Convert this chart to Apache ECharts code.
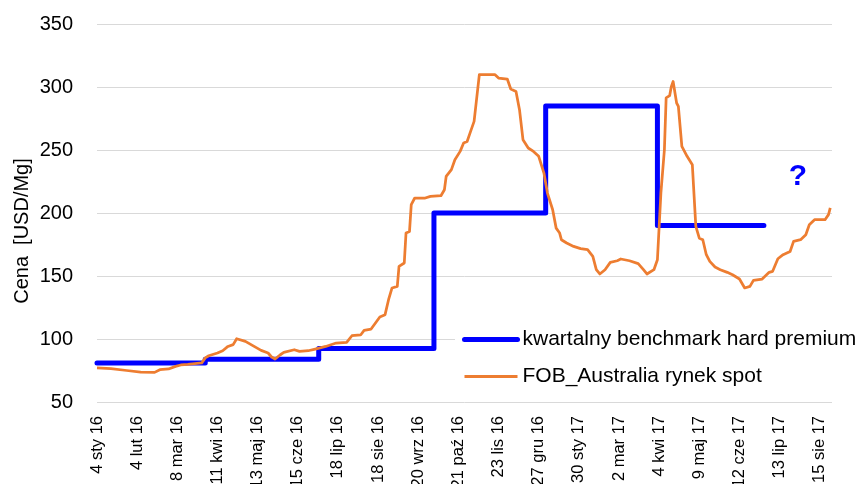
<!DOCTYPE html>
<html>
<head>
<meta charset="utf-8">
<script src="https://cdn.jsdelivr.net/npm/echarts@6/dist/echarts.min.js"></script>
<style>
  html, body { margin: 0; padding: 0; background: #fff; }
  #main { width: 858px; height: 484px; }
</style>
</head>
<body>
<div id="main"></div>
<script>
// os X: kolejne dni robocze od 4 sty 16, etykieta co 23 dni
var tickLabels = ['4 sty 16', '4 lut 16', '8 mar 16', '11 kwi 16', '13 maj 16', '15 cze 16',
  '18 lip 16', '18 sie 16', '20 wrz 16', '21 paź 16', '23 lis 16', '27 gru 16',
  '30 sty 17', '2 mar 17', '4 kwi 17', '9 maj 17', '12 cze 17', '13 lip 17', '15 sie 17'];
var tickStep = 23;
var lastDay = 421;

// kwartalny benchmark (dzien roboczy, cena)
var benchmark = [
  [0, 81], [62, 84], [127, 92.5], [193, 200], [257, 285], [321, 190], [382, 190]
];

// FOB Australia rynek spot (dzien roboczy, cena)
var spot = [
  [0, 77], [8, 76.4], [17, 75], [25, 73.8], [33, 73.5], [36, 75.6], [41, 76.2], [45, 78.3],
  [48, 79.4], [52, 79.8], [60, 81], [62, 85], [64, 86.7], [69, 88.9], [72, 90.7], [75, 94.1],
  [78, 95.5], [80, 100.2], [85, 98.1], [90, 94.1], [94, 91], [98, 88.9], [100, 85.7], [102, 84.1],
  [105, 87.5], [107, 89.4], [113, 91.5], [116, 90.2], [121, 90.7], [125, 92], [131, 94.1],
  [137, 96.8], [143, 97.3], [146, 102.6], [151, 103.2], [153, 106.8], [157, 107.9], [162, 117.5],
  [165, 119.3], [167, 131.2], [169, 140.5], [172, 141.8], [173, 157.6], [176, 160.3], [177, 184.1],
  [179, 185.4], [180, 206.6], [182, 211.9], [188, 211.9], [191, 213.2], [197, 213.7], [199, 218.5],
  [200, 229], [203, 234.4], [205, 242.3], [208, 248.9], [210, 255.6], [212, 256.8], [214, 264.8],
  [216, 272.7], [217, 274], [219, 309.8], [228, 309.8], [230, 307.1], [235, 306.3], [237, 298.4],
  [240, 296.5], [242, 282], [244, 258.2], [247, 251.6], [250, 248.9], [253, 245], [256, 231.7],
  [258, 215.8], [261, 202.6], [263, 188], [265, 184.1], [266, 178.8], [269, 176.2], [273, 173.5],
  [277, 171.7], [281, 170.9], [284, 165.6], [286, 155], [288, 151.6], [291, 155], [294, 160.8],
  [298, 162.1], [300, 163.5], [305, 162.1], [310, 159.8], [313, 155], [315, 151.6], [319, 155],
  [321, 162.9], [323, 215.9], [325, 250.2], [326, 291.3], [328, 293.1], [329, 300.5], [330, 304.4],
  [332, 287.3], [333, 284.6], [335, 252.9], [338, 245], [341, 238.3], [343, 189.4], [345, 180],
  [347, 178.8], [349, 166.9], [351, 161.6], [354, 157.1], [357, 155], [361, 152.9], [364, 151],
  [368, 147.6], [371, 140.5], [374, 141.8], [376, 146.5], [381, 147.6], [385, 152.9], [387, 153.7],
  [390, 163.7], [393, 166.9], [397, 169.5], [399, 177.5], [403, 178.8], [406, 182.8], [408, 190.7],
  [411, 194.7], [417, 194.7], [419, 198.7], [420, 204]
];

var font = 'Liberation Sans, Arial, sans-serif';

var chart = echarts.init(document.getElementById('main'), null, { renderer: 'canvas' });

var option = {
  animation: false,
  backgroundColor: '#fff',
  textStyle: { fontFamily: font, color: '#000' },
  grid: { left: 97, right: 26, top: 24, bottom: 82, outerBoundsMode: 'none', containLabel: false },
  xAxis: {
    type: 'value',
    min: 0,
    max: lastDay,
    interval: tickStep,
    axisLine: { show: false },
    axisTick: { show: false },
    splitLine: { show: false },
    axisLabel: {
      rotate: 90,
      margin: 14,
      fontSize: 16.5,
      color: '#000',
      showMaxLabel: false,
      formatter: function (v) {
        return tickLabels[v / tickStep] || '';
      }
    }
  },
  yAxis: {
    type: 'value',
    min: 50,
    max: 350,
    interval: 50,
    axisLine: { show: false },
    axisTick: { show: false },
    splitLine: { lineStyle: { color: '#d9d9d9', width: 1 } },
    axisLabel: { fontSize: 20, margin: 24, color: '#000' }
  },
  legend: {
    orient: 'vertical',
    left: 455,
    top: 324,
    padding: [5, 5, 5, 7],
    backgroundColor: '#fff',
    itemWidth: 53,
    itemHeight: 14,
    itemGap: 16,
    itemTextGap: 5,
    textStyle: { fontSize: 21, color: '#000', fontFamily: font },
    data: [
      {
        name: 'kwartalny benchmark hard premium',
        itemStyle: { opacity: 0 },
        lineStyle: { width: 5, cap: 'round' }
      },
      {
        name: 'FOB_Australia rynek spot',
        itemStyle: { opacity: 0 },
        lineStyle: { width: 3 }
      }
    ]
  },
  graphic: [
    {
      type: 'text',
      x: 22,
      y: 231,
      rotation: Math.PI / 2,
      style: {
        text: 'Cena  [USD/Mg]',
        fontSize: 20,
        fontFamily: font,
        fill: '#000',
        align: 'center',
        verticalAlign: 'middle'
      }
    },
    {
      type: 'text',
      x: 798,
      y: 177,
      style: {
        text: '?',
        fontSize: 30,
        fontWeight: 'bold',
        fontFamily: font,
        fill: '#0000ff',
        align: 'center',
        verticalAlign: 'middle'
      }
    }
  ],
  series: [
    {
      name: 'kwartalny benchmark hard premium',
      type: 'line',
      step: 'end',
      symbol: 'none',
      showSymbol: false,
      data: benchmark,
      lineStyle: { color: '#0000ff', width: 5, cap: 'round', join: 'round' },
      itemStyle: { color: '#0000ff' }
    },
    {
      name: 'FOB_Australia rynek spot',
      type: 'line',
      symbol: 'none',
      showSymbol: false,
      data: spot,
      lineStyle: { color: '#ed7d31', width: 2.75, join: 'round' },
      itemStyle: { color: '#ed7d31' }
    }
  ]
};

chart.setOption(option);
</script>
</body>
</html>
